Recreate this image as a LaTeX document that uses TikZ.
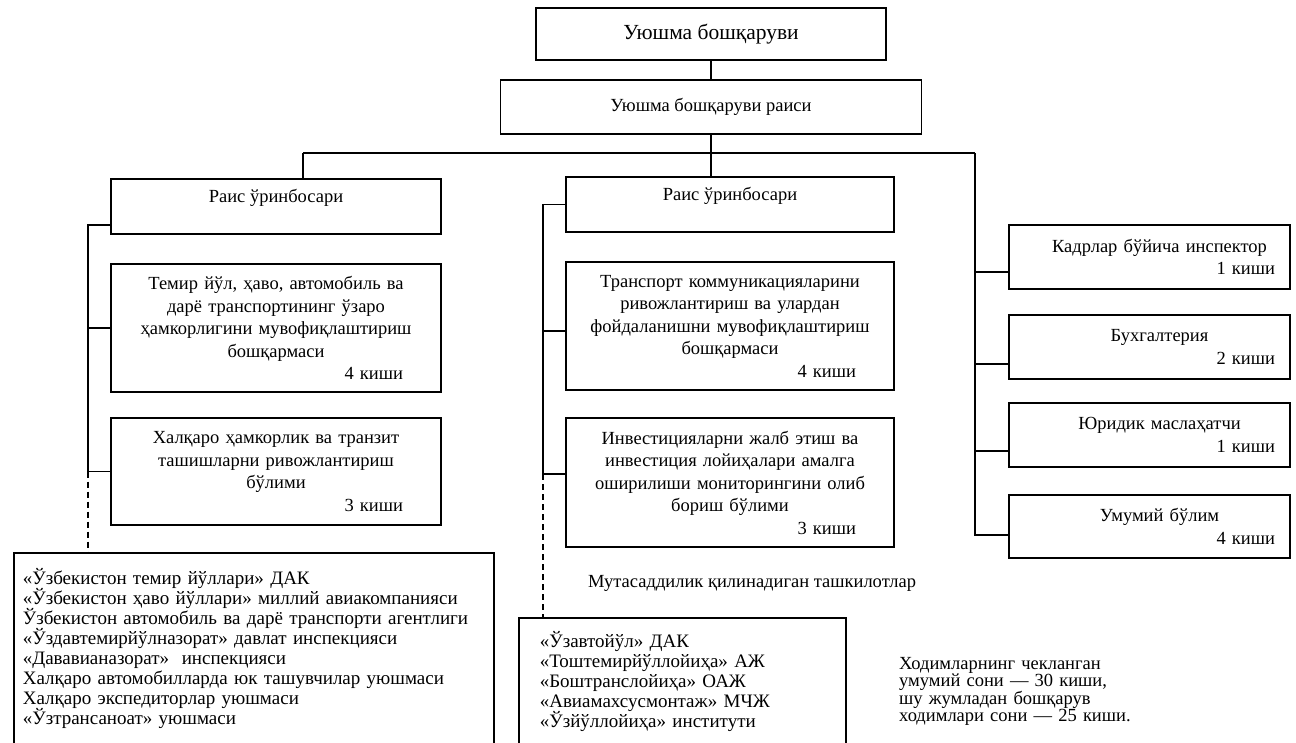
\documentclass[tikz,border=0pt]{standalone}
\usepackage{fontspec}
\setmainfont{Liberation Serif}
\usepackage{tikz}
\usetikzlibrary{calc}

\newcommand{\kishi}[2][28pt]{\\\hskip 0pt plus 1fill #2~киши\kern#1}

\begin{document}
\begin{tikzpicture}
  [
    x=1pt, y=-1pt,
    Box/.style={rectangle, draw=black, line width=1.6pt, align=center, inner sep=0pt, font=\fontsize{18.5}{22.5}\selectfont},
    Head/.style={Box, font=\fontsize{21.5}{25}\selectfont},
    Side/.style={Box, minimum width=281pt, text width=261pt},
    List/.style={rectangle, draw=black, line width=1.6pt, align=left, anchor=north west, font=\fontsize{19}{20}\selectfont,
                 execute at begin node={\lineskiplimit=-30pt\lineskip=0pt}},
    Plain/.style={align=left, inner sep=0pt, anchor=base west, font=\fontsize{18.5}{17.5}\selectfont,
                  execute at begin node={\lineskiplimit=-30pt\lineskip=0pt}},
    Link/.style={draw, line width=1.6pt},
    Broken/.style={Link, dash pattern=on 6pt off 4pt}
  ]
  \useasboundingbox (0,0) rectangle (1296,743);

  % Nodes
  \node[Head, minimum width=350pt, minimum height=52pt] (board) at (711,34) {Уюшма бошқаруви};
  \node[Box, minimum width=421pt, minimum height=54pt] (chair) at (711,107) {Уюшма бошқаруви раиси};

  \node[Box, minimum width=330pt, minimum height=55pt, text depth=22pt] (dep1) at (276,206.5) {Раис ўринбосари};
  \node[Box, minimum width=330pt, minimum height=128pt, text width=310pt] (coord) at (276,328)
    {Темир йўл, ҳаво, автомобиль ва\\дарё транспортининг ўзаро\\ҳамкорлигини мувофиқлаштириш\\бошқармаси\kishi{4}};
  \node[Box, minimum width=330pt, minimum height=107pt, text width=310pt] (trans) at (276,471.5)
    {Халқаро ҳамкорлик ва транзит\\ташишларни ривожлантириш\\бўлими\kishi{3}};

  \node[Box, minimum width=328pt, minimum height=55pt, text depth=22pt] (dep2) at (730,204.5) {Раис ўринбосари};
  \node[Box, minimum width=328pt, minimum height=128pt, text width=308pt] (comm) at (730,326)
    {Транспорт коммуникацияларини\\ривожлантириш ва улардан\\фойдаланишни мувофиқлаштириш\\бошқармаси\kishi{4}};
  \node[Box, minimum width=328pt, minimum height=129pt, text width=308pt] (invest) at (730,482.5)
    {Инвестицияларни жалб этиш ва\\инвестиция лойиҳалари амалга\\оширилиши мониторингини олиб\\бориш бўлими\kishi{3}};

  \node[Side, minimum height=64pt] (staff) at (1149.5,257) {\hspace*{20pt}Кадрлар бўйича инспектор\kishi[5pt]{1}};
  \node[Side, minimum height=64pt] (acct) at (1149.5,347) {\hspace*{20pt}Бухгалтерия\kishi[5pt]{2}};
  \node[Side, minimum height=64pt] (legal) at (1149.5,435) {\hspace*{20pt}Юридик маслаҳатчи\kishi[5pt]{1}};
  \node[Side, minimum height=63pt] (general) at (1149.5,526.5) {\hspace*{20pt}Умумий бўлим\kishi[5pt]{4}};

  \node[List, text width=462pt, inner xsep=9pt, inner ysep=16pt, text depth=170pt] (orgs1) at (13,552)
    {«Ўзбекистон темир йўллари» ДАК\\
     «Ўзбекистон ҳаво йўллари» миллий авиакомпанияси\\
     Ўзбекистон автомобиль ва дарё транспорти агентлиги\\
     «Ўздавтемирйўлназорат» давлат инспекцияси\\
     «Дававианазорат»\ \ инспекцияси\\
     Халқаро автомобилларда юк ташувчилар уюшмаси\\
     Халқаро экспедиторлар уюшмаси\\
     «Ўзтрансаноат» уюшмаси};
  \node[List, text width=285pt, inner xsep=21pt, inner ysep=14pt, text depth=110pt] (orgs2) at (518,617)
    {«Ўзавтойўл» ДАК\\
     «Тоштемирйўллойиҳа» АЖ\\
     «Боштранслойиҳа» ОАЖ\\
     «Авиамахсусмонтаж» МЧЖ\\
     «Ўзйўллойиҳа» институти};

  \node[Plain] (caption) at (588,587) {Мутасаддилик қилинадиган ташкилотлар};
  \node[Plain, text width=300pt] (note) at (899,669)
    {Ходимларнинг чекланган\\умумий сони — 30 киши,\\шу жумладан бошқарув\\ходимлари сони — 25 киши.};

  \coordinate (busL) at (303,153);
  \coordinate (busR) at (975,153);
  \coordinate (spineL) at (88,225);
  \coordinate (spineM) at (543,203);
  \coordinate (toInvest) at ($(invest.west)+(0,-8.5)$);

  % Lines
  \path [Link] (board) -- (chair);
  \path [Link] (busL) -- (busR);
  \path [Link] (chair.south) -- (chair.south |- dep2.north);
  \path [Link] (busL) -- (busL |- dep1.north);

  \path [Link] (dep1.west |- spineL) -- (spineL) -- (spineL |- trans.west) -- (trans.west);
  \path [Link] (spineL |- coord.west) -- (coord.west);
  \path [Broken] (spineL |- trans.west) -- (spineL |- orgs1.north);

  \path [Link] (dep2.west) -- (spineM |- dep2.west) -- (spineM |- toInvest) -- (toInvest);
  \path [Link] ($(spineM |- comm.west)+(0,5)$) -- ($(comm.west)+(0,5)$);
  \path [Broken] (spineM |- toInvest) -- (spineM |- orgs2.north);

  \path [Link] (busR) -- ($(busR |- general.west)+(0,8.5)$) -- ($(general.west)+(0,8.5)$);
  \path [Link] ($(busR |- staff.west)+(0,15)$) -- ($(staff.west)+(0,15)$);
  \path [Link] ($(busR |- acct.west)+(0,17)$) -- ($(acct.west)+(0,17)$);
  \path [Link] ($(busR |- legal.west)+(0,16)$) -- ($(legal.west)+(0,16)$);

\end{tikzpicture}
\end{document}
